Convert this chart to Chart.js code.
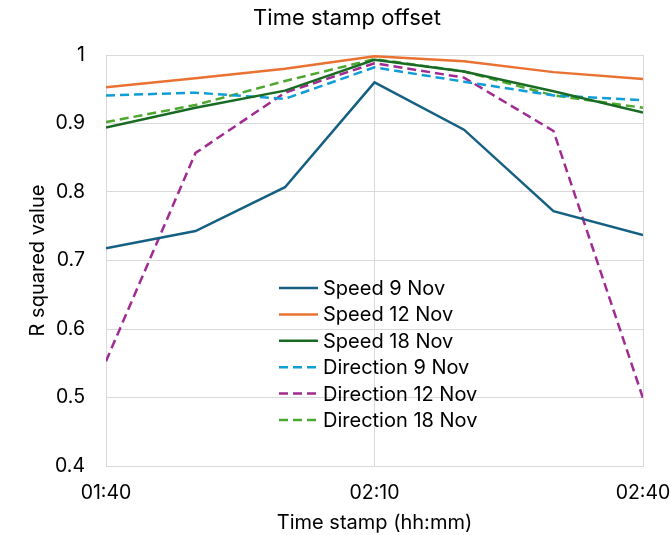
<!DOCTYPE html>
<html>
<head>
<meta charset="utf-8">
<script src="https://cdn.jsdelivr.net/npm/chart.js@4/dist/chart.umd.min.js"></script>
<style>
  html, body { margin: 0; padding: 0; background: #fff; }
  #wrap { width: 670px; height: 535px; }
</style>
</head>
<body>
<div id="wrap"><canvas id="offsetChart" width="670" height="535"></canvas></div>
<script>
// Sample times (hh:mm)
const times = ["01:40", "01:50", "02:00", "02:10", "02:20", "02:30", "02:40"];
const xTickLabels = ["01:40", "02:10", "02:40"];
const yTicks = [0.4, 0.5, 0.6, 0.7, 0.8, 0.9, 1];

// R squared values per series
const speed9Nov = [0.718, 0.743, 0.807, 0.960, 0.891, 0.772, 0.737];
const speed12Nov = [0.953, 0.966, 0.980, 0.998, 0.991, 0.975, 0.965];
const speed18Nov = [0.894, 0.923, 0.948, 0.993, 0.976, 0.947, 0.916];
const direction9Nov = [0.941, 0.945, 0.936, 0.982, 0.961, 0.941, 0.934];
const direction12Nov = [0.553, 0.857, 0.945, 0.988, 0.967, 0.889, 0.499];
const direction18Nov = [0.902, 0.927, 0.962, 0.994, 0.976, 0.941, 0.923];

const FONT = "Inter, 'Liberation Sans', sans-serif";
const GRID = "#d9d9d9";

function toMinutes(t) {
    const [h, m] = t.split(":").map(Number);
    return h * 60 + m;
}

function toLabel(min) {
    const h = Math.floor(min / 60);
    const m = min % 60;
    return String(h).padStart(2, "0") + ":" + String(m).padStart(2, "0");
}

function points(values) {
    return values.map((v, i) => ({ x: toMinutes(times[i]), y: v }));
}

function series(label, values, color, dashed) {
    return {
        label: label,
        data: points(values),
        borderColor: color,
        backgroundColor: color,
        borderWidth: 2.5,
        borderDash: dashed ? [9, 5] : [],
        pointRadius: 0,
        tension: 0,
    };
}

// Title + legend drawn inside the plot, like the Excel chart
const overlayPlugin = {
    id: "overlay",
    afterDatasetsDraw(chart) {
        const ctx = chart.ctx;
        ctx.save();
        ctx.fillStyle = "#000";
        ctx.font = "22px " + FONT;
        ctx.textAlign = "center";
        ctx.textBaseline = "middle";
        ctx.fillText("Time stamp offset", 347, 18);

        ctx.font = "20px " + FONT;
        ctx.textAlign = "left";
        chart.data.datasets.forEach((ds, i) => {
            const y = 288 + i * 26.4;
            ctx.beginPath();
            ctx.strokeStyle = ds.borderColor;
            ctx.lineWidth = 2.5;
            ctx.setLineDash(ds.borderDash);
            ctx.moveTo(279, y);
            ctx.lineTo(318, y);
            ctx.stroke();
            ctx.setLineDash([]);
            ctx.fillText(ds.label, 323, y + 1);
        });
        ctx.restore();
    },
};

const xMin = toMinutes(xTickLabels[0]);
const xMax = toMinutes(xTickLabels[xTickLabels.length - 1]);

new Chart(document.getElementById("offsetChart").getContext("2d"), {
    type: "line",
    data: {
        datasets: [
            series("Speed 9 Nov", speed9Nov, "#156082", false),
            series("Speed 12 Nov", speed12Nov, "#e97132", false),
            series("Speed 18 Nov", speed18Nov, "#196b24", false),
            series("Direction 9 Nov", direction9Nov, "#0f9ed5", true),
            series("Direction 12 Nov", direction12Nov, "#a02b93", true),
            series("Direction 18 Nov", direction18Nov, "#4ea72e", true),
        ],
    },
    options: {
        responsive: false,
        animation: false,
        layout: { padding: { top: 55, right: 27, left: 0, bottom: 0 } },
        plugins: {
            legend: { display: false },
            title: { display: false },
            tooltip: { enabled: false },
        },
        scales: {
            x: {
                type: "linear",
                min: xMin,
                max: xMax,
                afterBuildTicks: (scale) => {
                    scale.ticks = xTickLabels.map((t) => ({ value: toMinutes(t) }));
                },
                afterFit: (scale) => {
                    scale.height = 69;
                    scale.paddingLeft = 0;
                    scale.paddingRight = 0;
                },
                ticks: {
                    callback: (v) => toLabel(v),
                    color: "#000",
                    font: { family: FONT, size: 19.5 },
                    padding: 15,
                    maxRotation: 0,
                },
                grid: { color: GRID, drawTicks: false },
                border: { color: GRID },
                title: {
                    display: true,
                    text: "Time stamp (hh:mm)",
                    color: "#000",
                    font: { family: FONT, size: 20 },
                    padding: { top: 0, bottom: 0 },
                },
            },
            y: {
                min: yTicks[0],
                max: yTicks[yTicks.length - 1],
                afterBuildTicks: (scale) => {
                    scale.ticks = yTicks.map((v) => ({ value: v }));
                },
                afterFit: (scale) => { scale.width = 106; },
                ticks: {
                    callback: (v) => String(Number(v.toFixed(1))),
                    color: "#000",
                    font: { family: FONT, size: 19.5 },
                    padding: 21,
                },
                grid: { color: GRID, drawTicks: false },
                border: { color: GRID },
                title: {
                    display: true,
                    text: "R squared value",
                    color: "#000",
                    font: { family: FONT, size: 20 },
                    padding: { top: 26, bottom: 0 },
                },
            },
        },
    },
    plugins: [overlayPlugin],
});
</script>
</body>
</html>
